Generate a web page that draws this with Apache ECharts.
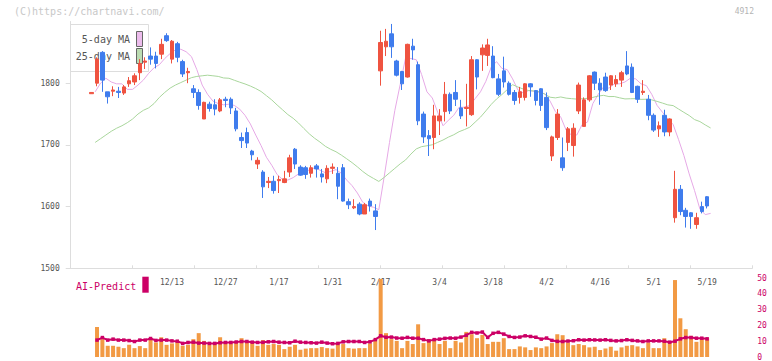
<!DOCTYPE html>
<html><head><meta charset="utf-8">
<script src="https://cdn.jsdelivr.net/npm/echarts@6/dist/echarts.min.js"></script>
<style>html,body{margin:0;padding:0;background:#fff}#c{width:772px;height:361px}</style>
</head><body><div id="c"></div>
<script>
// ---- data ----
const open  = [1783,1800,1850,1786,1787,1787,1784,1799,1802,1817,1834,1844,1844,1847,1877,1839,1864,1835,1817,1791,
  1785,1742,1766,1765,1755,1774,1774,1755,1712,1720,1690,1669,1656,1639,1641,1642,1639,1656,1693,1664,
  1663,1654,1666,1653,1645,1662,1654,1663,1608,1598,1604,1588,1609,1593,1820,1859,1880,1836,1819,1810,
  1860,1830,1750,1715,1712,1739,1754,1782,1785,1760,1759,1749,1838,1846,1845,1844,1807,1820,1800,1785,
  1777,1777,1799,1788,1791,1777,1682,1712,1679,1704,1699,1755,1730,1773,1818,1800,1810,1797,1799,1805,
  1828,1826,1795,1785,1774,1748,1726,1748,1721,1582,1628,1594,1590,1571,1600,1616];
const close = [1785,1839,1805,1778,1789,1785,1794,1804,1812,1832,1836,1839,1832,1863,1869,1868,1842,1815,1819,1785,
  1764,1769,1759,1758,1773,1772,1760,1726,1707,1703,1684,1675,1632,1641,1626,1644,1645,1679,1669,1651,
  1652,1663,1661,1648,1662,1664,1633,1609,1603,1600,1588,1603,1601,1584,1866,1868,1859,1813,1799,1863,
  1854,1739,1713,1710,1747,1747,1782,1755,1774,1747,1761,1838,1810,1857,1862,1809,1782,1802,1782,1772,
  1786,1799,1794,1772,1764,1728,1713,1750,1663,1726,1727,1797,1773,1812,1800,1789,1788,1812,1806,1817,
  1815,1785,1774,1787,1748,1724,1731,1721,1742,1628,1592,1584,1584,1582,1592,1601];
const high  = [1785,1842,1852,1786,1795,1794,1797,1810,1816,1839,1842,1858,1851,1872,1881,1870,1867,1838,1825,1797,
  1790,1770,1770,1774,1776,1778,1777,1760,1720,1728,1692,1680,1659,1648,1650,1650,1658,1684,1695,1667,
  1666,1667,1669,1661,1667,1670,1664,1669,1613,1612,1607,1606,1613,1604,1885,1888,1896,1838,1820,1864,
  1872,1835,1754,1724,1765,1758,1802,1785,1805,1773,1799,1844,1839,1863,1872,1860,1815,1843,1803,1789,
  1794,1800,1800,1789,1792,1785,1715,1758,1712,1729,1735,1801,1777,1813,1819,1808,1817,1813,1813,1820,
  1852,1832,1796,1805,1781,1751,1738,1757,1743,1658,1635,1598,1591,1590,1608,1617];
const low   = [1783,1795,1786,1767,1779,1776,1781,1794,1797,1805,1823,1830,1824,1839,1867,1832,1834,1810,1800,1776,
  1757,1742,1754,1748,1753,1761,1750,1722,1695,1695,1675,1661,1614,1630,1621,1622,1638,1648,1661,1650,
  1645,1647,1647,1639,1638,1653,1612,1608,1596,1596,1586,1588,1592,1562,1796,1844,1841,1811,1789,1809,
  1838,1732,1703,1682,1693,1716,1738,1750,1763,1742,1730,1747,1790,1820,1828,1808,1779,1793,1780,1765,
  1767,1772,1778,1764,1755,1724,1674,1708,1658,1690,1681,1750,1730,1770,1789,1765,1786,1789,1794,1794,
  1813,1784,1768,1781,1740,1721,1713,1714,1714,1574,1586,1566,1564,1564,1589,1597];
const ma5   = [1786,1800,1808,1802,1799,1799,1790,1790,1797,1805,1816,1825,1830,1840,1848,1854,1855,1851,1843,1822,
  1797,1782,1771,1767,1765,1766,1764,1758,1748,1734,1716,1699,1680,1667,1652,1644,1643,1647,1653,1658,
  1659,1663,1659,1655,1657,1660,1654,1643,1634,1622,1607,1601,1599,1595,1648,1704,1756,1798,1841,1840,
  1838,1814,1786,1776,1753,1731,1740,1748,1761,1761,1764,1775,1786,1803,1826,1835,1824,1822,1807,1789,
  1784,1788,1787,1785,1783,1771,1754,1745,1724,1716,1716,1733,1737,1767,1782,1794,1792,1799,1799,1802,
  1808,1807,1799,1796,1782,1764,1753,1742,1733,1709,1683,1653,1626,1596,1587,1589];
const ma25  = [1704,1710,1716,1722,1727,1731,1736,1742,1750,1756,1760,1767,1777,1785,1792,1797,1801,1805,1809,1811,
  1812,1813,1812,1811,1808.5,1808.0,1804.8,1801.7,1798.8,1795.4,1791.4,1786.6,1779.8,1772.9,1764.7,1757.0,1749.2,1743.1,1735.4,1726.6,
  1718.0,1710.8,1704.7,1697.8,1692.9,1688.9,1683.5,1677.5,1671.3,1664.4,1657.0,1650.7,1645.7,1640.8,1647.3,1654.7,1662.0,1669.3,1675.6,1685.1,
  1693.5,1697.2,1698.6,1700.2,1704.1,1707.9,1712.6,1716.4,1721.4,1724.8,1728.7,1736.9,1745.0,1755.1,1765.6,1774.4,1781.6,1789.6,1797.6,1793.8,
  1790.5,1788.1,1787.4,1786.3,1782.3,1777.3,1776.2,1777.7,1775.8,1775.0,1774.2,1774.8,1775.5,1777.0,1779.2,1780.3,1778.3,1778.4,1776.3,1774.5,
  1774.8,1774.9,1773.8,1774.0,1773.0,1770.5,1767.8,1764.9,1763.7,1758.2,1752.8,1747.6,1741.0,1737.8,1732.4,1727.4];
const volume = [null,19.0,11.3,7.1,7.1,6.5,5.6,7.7,5.6,6.9,5.6,11.3,9.2,12.5,7.7,8.6,9.6,7.1,7.7,11.3,
  15.1,10.2,7.7,8.2,12.5,9.2,8.6,9.6,11.9,9.6,9.2,7.1,10.7,7.7,8.2,7.7,5.0,6.5,7.7,4.6,
  5.3,5.6,5.6,6.3,5.6,5.3,8.6,8.2,5.6,5.3,5.6,5.6,8.6,10.7,49.4,15.1,11.3,10.2,5.6,10.2,
  8.2,20.7,8.8,11.3,10.7,8.2,10.2,5.6,10.2,9.2,15.9,14.4,11.9,14.0,8.2,9.6,9.6,11.9,5.0,5.0,
  6.7,6.1,4.4,6.1,5.6,6.7,8.8,14.4,13.8,9.2,7.5,8.2,7.5,6.1,6.5,4.4,5.4,6.5,4.0,6.1,
  7.1,7.5,6.7,5.6,9.2,5.6,5.6,11.9,9.2,48.7,24.5,17.6,13.4,9.6,11.3,11.9];
const aiPredict = [null,10.7,12.3,10.7,11.3,10.7,10.7,10.4,9.8,10.7,10.7,11.7,10.5,10.7,10.7,10.2,10.0,8.6,9.2,9.4,
  8.8,8.8,8.6,8.6,9.0,9.2,9.2,9.5,9.8,9.8,9.4,9.2,9.3,9.6,9.8,9.4,9.2,9.0,10.0,9.4,
  9.2,9.0,8.8,9.4,8.8,8.4,8.6,9.6,9.8,9.8,9.8,9.2,9.6,11.0,13.4,12.5,12.6,12.0,11.9,12.4,
  11.9,11.9,11.0,10.2,11.0,11.3,11.8,12.0,11.9,12.6,13.8,15.6,15.2,15.8,12.4,15.0,15.6,14.5,13.0,12.4,
  12.6,13.4,13.0,12.5,11.3,12.0,10.5,9.9,9.8,10.1,10.3,10.9,10.7,10.9,10.8,10.7,10.9,10.5,10.2,10.4,
  10.9,10.5,10.2,9.8,10.2,10.2,10.2,10.0,9.4,10.0,11.5,12.3,12.3,11.9,11.9,11.5];
const tickLabels = ['12/13','12/27','1/17','1/31','2/17','3/4','3/18','4/2','4/16','5/1','5/19'];
const tickIndex  = [15,25,35,45,54,65,75,85,95,105,115];
const priceTicks = [1500,1600,1700,1800];

// ---- chart ----
const FONT = 'DejaVu Sans Mono';
const X_MIN = -3.92, X_MAX = 123.44, LINE_SHIFT = 0.65;
const UP = '#ef5340', DOWN = '#3f7ced', MAG = '#cc0066';

const candles = close.map((c, i) => [i, open[i], c, low[i], high[i]]);
const ma5Data = ma5.map((v, i) => [i + LINE_SHIFT, v]);
const ma25Data = ma25.map((v, i) => [i + LINE_SHIFT, v]);
const volData = [], aiData = [];
volume.forEach((v, i) => { if (v != null) volData.push([i, v]); });
aiPredict.forEach((v, i) => { if (v != null) aiData.push([i, v]); });

const chart = echarts.init(document.getElementById('c'), null, {renderer: 'svg'});
chart.setOption({
  animation: false,
  backgroundColor: '#fff',
  grid: [
    {left: 70.7, right: 19.7, top: 21.5, bottom: 92.7},
    {left: 70.7, right: 19.7, top: 278, bottom: 3.3}
  ],
  xAxis: [
    {gridIndex: 0, type: 'value', min: X_MIN, max: X_MAX, position: 'bottom',
      axisLine: {show: false, onZero: false}, axisTick: {show: false}, splitLine: {show: false},
      axisLabel: {customValues: tickIndex, margin: 10, fontSize: 8, color: '#555', fontFamily: FONT,
        formatter: v => { const k = tickIndex.indexOf(v); return k >= 0 ? tickLabels[k] : ''; }}},
    {gridIndex: 0, type: 'value', min: 0, max: 11, interval: 1, position: 'bottom',
      axisLine: {show: true, onZero: false, lineStyle: {color: '#dddddd', width: 1}},
      axisTick: {show: true, inside: true, length: 3, lineStyle: {color: '#dddddd'}},
      axisLabel: {show: false}, splitLine: {show: false}},
    {gridIndex: 1, type: 'value', min: X_MIN, max: X_MAX, show: false}
  ],
  yAxis: [
    {gridIndex: 0, type: 'value', min: 1500, max: 1900, interval: 100, position: 'left',
      axisLine: {show: true, onZero: false, lineStyle: {color: '#dddddd'}},
      axisTick: {show: true, length: 5, customValues: priceTicks, lineStyle: {color: '#dddddd'}},
      axisLabel: {customValues: priceTicks, margin: 11, fontSize: 8, color: '#555', fontFamily: FONT,
        formatter: v => String(v)},
      splitLine: {show: false}},
    {gridIndex: 1, type: 'value', min: 0, max: 50, interval: 10, position: 'right',
      axisLine: {show: false, onZero: false}, axisTick: {show: false}, splitLine: {show: false},
      axisLabel: {margin: 5, fontSize: 8, color: MAG, fontFamily: FONT, formatter: v => String(v)}}
  ],
  graphic: [
    {type: 'text', left: 14, top: 6, z: 0, style: {text: '(C)https://chartnavi.com/', font: '10px "DejaVu Sans Mono"', fill: '#c8c8c8'}},
    {type: 'text', right: 18, top: 7, z: 0, style: {text: '4912', font: '8px "DejaVu Sans Mono"', fill: '#b4b4b4'}},
    {type: 'rect', shape: {x: 70.5, y: 24.5, width: 78, height: 47}, z: 0,
      style: {fill: 'rgba(255,255,255,0.9)', stroke: '#dddddd', lineWidth: 1}},
    {type: 'text', x: 130, y: 39, z: 0, style: {text: '5-day MA', font: '10px "DejaVu Sans Mono"', fill: '#555', align: 'right', verticalAlign: 'middle'}},
    {type: 'text', x: 130, y: 56.5, z: 0, style: {text: '25-day MA', font: '10px "DejaVu Sans Mono"', fill: '#555', align: 'right', verticalAlign: 'middle'}},
    {type: 'rect', shape: {x: 136.5, y: 31.5, width: 6, height: 15}, z: 0, style: {fill: '#ecbcec', stroke: '#666', lineWidth: 1}},
    {type: 'rect', shape: {x: 136.5, y: 48.5, width: 6, height: 15}, z: 0, style: {fill: '#bcdcb2', stroke: '#666', lineWidth: 1}},
    {type: 'text', x: 76, y: 286, z: 0, style: {text: 'AI-Predict', font: '10px "DejaVu Sans Mono"', fill: MAG, verticalAlign: 'middle'}},
    {type: 'rect', shape: {x: 142.3, y: 276.7, width: 6.4, height: 16}, z: 0, style: {fill: MAG}}
  ],
  series: [
    {name: '5-day MA', type: 'line', xAxisIndex: 0, yAxisIndex: 0, data: ma5Data, showSymbol: false, symbol: 'none',
      lineStyle: {color: '#e6a9e6', width: 1}, z: 3, silent: true},
    {name: '25-day MA', type: 'line', xAxisIndex: 0, yAxisIndex: 0, data: ma25Data, showSymbol: false, symbol: 'none',
      lineStyle: {color: '#a9d69c', width: 1}, z: 3, silent: true},
    {name: 'Price', type: 'candlestick', xAxisIndex: 0, yAxisIndex: 0, data: candles, barWidth: 4,
      encode: {x: 0, y: [1, 2, 3, 4]},
      itemStyle: {color: UP, color0: DOWN, borderColor: UP, borderColor0: DOWN, borderWidth: 1}, z: 4, silent: true},
    {name: 'Volume', type: 'bar', xAxisIndex: 2, yAxisIndex: 1, data: volData, barWidth: 4,
      itemStyle: {color: '#f29a44'}, z: 2, silent: true},
    {name: 'AI-Predict', type: 'line', xAxisIndex: 2, yAxisIndex: 1, data: aiData,
      symbol: 'rect', symbolSize: 3.5, showSymbol: true,
      lineStyle: {color: MAG, width: 2}, itemStyle: {color: MAG}, z: 3, silent: true}
  ]
});
</script>
</body></html>
